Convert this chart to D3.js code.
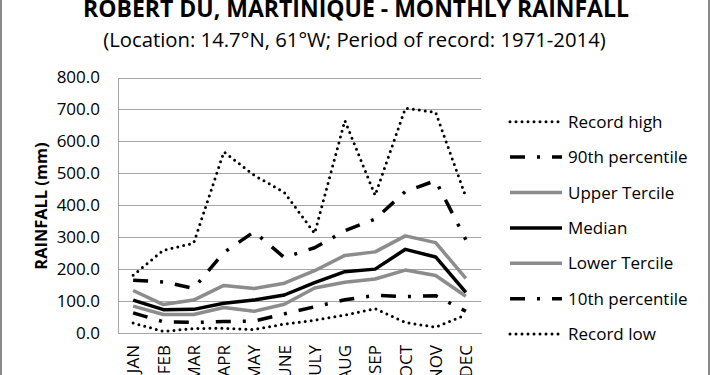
<!DOCTYPE html>
<html>
<head>
<meta charset="utf-8">
<script src="https://cdn.jsdelivr.net/npm/d3@7"></script>
<style>
  html, body { margin: 0; padding: 0; background: #fff; }
  svg { display: block; }
  text { font-family: "Open Sans", sans-serif; fill: #000; }
</style>
</head>
<body>
<svg id="chart" width="710" height="375"></svg>
<script>
// ---------- data ----------
const months = ["JAN","FEB","MAR","APR","MAY","JUNE","JULY","AUG","SEP","OCT","NOV","DEC"];
const recordHigh    = [181, 259, 281, 567, 494, 440, 312, 665, 431, 704, 691, 426];
const pct90         = [165, 160, 140, 252, 317, 236, 267, 320, 357, 443, 477, 292];
const upperTercile  = [133,  89, 103, 149, 139, 156, 195, 243, 254, 304, 283, 171];
const median        = [103,  73,  74,  93, 103, 119, 158, 192, 200, 262, 238, 127];
const lowerTercile  = [ 84,  58,  58,  80,  68,  90, 141, 159, 169, 197, 180, 115];
const pct10         = [ 63,  35,  33,  36,  37,  60,  82, 104, 118, 114, 117,  68];
const recordLow     = [ 31,   5,  14,  15,  11,  28,  40,  56,  76,  33,  18,  57];
const yTicks        = [0, 100, 200, 300, 400, 500, 600, 700, 800];
const seriesNames   = ["Record high","90th percentile","Upper Tercile","Median","Lower Tercile","10th percentile","Record low"];
const titleText     = "ROBERT DU, MARTINIQUE - MONTHLY RAINFALL";
const subtitleText  = "(Location: 14.7°N, 61°W; Period of record: 1971-2014)";
const yAxisTitle    = "RAINFALL (mm)";

// ---------- styles ----------
const dotStyle  = {color:"#000", width:3,   dash:"0,6",        cap:"round"};
const dashDot   = {color:"#000", width:3.5, dash:"15,12,3,12", cap:"butt"};
const greyLine  = {color:"#8c8c8c", width:3.5, dash:null, cap:"butt"};
const blackLine = {color:"#000", width:3.5, dash:null, cap:"butt"};
const seriesValues = [recordHigh, pct90, upperTercile, median, lowerTercile, pct10, recordLow];
const seriesStyles = [dotStyle, dashDot, greyLine, blackLine, greyLine, dashDot, dotStyle];

// ---------- layout ----------
const svg = d3.select("#chart");
const plot = {left:118, right:481, top:77.5, bottom:333};

const x = d3.scaleBand().domain(months).range([plot.left, plot.right]);
const y = d3.scaleLinear().domain([0, 800]).range([plot.bottom, plot.top]);

// outer border (left & right edges)
svg.append("line").attr("x1",1).attr("x2",1).attr("y1",0).attr("y2",375)
  .attr("stroke","#8a8a8a").attr("stroke-width",2);
svg.append("line").attr("x1",709).attr("x2",709).attr("y1",0).attr("y2",375)
  .attr("stroke","#8a8a8a").attr("stroke-width",2);

// titles
svg.append("text").attr("x",356).attr("y",17).attr("text-anchor","middle")
  .style("font-weight","bold").style("font-size","23px").text(titleText);
svg.append("text").attr("x",354.5).attr("y",47).attr("text-anchor","middle")
  .style("font-size","20.3px").text(subtitleText);

// gridlines
const gridG = svg.append("g")
  .attr("transform", `translate(${plot.left},0)`)
  .call(d3.axisLeft(y).tickValues(yTicks.filter(d => d > 0))
        .tickSize(-(plot.right - plot.left)).tickFormat(""));
gridG.select(".domain").remove();
gridG.selectAll(".tick line").attr("stroke","#a6a6a6").attr("stroke-width",1).attr("shape-rendering","crispEdges");

// y axis labels
const yAxisG = svg.append("g")
  .attr("transform", `translate(${plot.left},0)`)
  .call(d3.axisLeft(y).tickValues(yTicks).tickSize(0).tickPadding(18)
        .tickFormat(d3.format(".1f")));
yAxisG.select(".domain").attr("stroke","#a6a6a6").attr("shape-rendering","crispEdges");
yAxisG.selectAll(".tick text").style("font-family","'Open Sans', sans-serif")
  .style("font-size","17px").attr("fill","#000");

// x axis
const xAxisG = svg.append("g")
  .attr("transform", `translate(0,${plot.bottom})`)
  .call(d3.axisBottom(x).tickSize(0).tickPadding(0));
xAxisG.select(".domain").attr("stroke","#a6a6a6").attr("stroke-width",1.5).attr("shape-rendering","crispEdges");
xAxisG.selectAll(".tick text")
  .style("font-family","'Open Sans', sans-serif").style("font-size","17px").attr("fill","#000")
  .attr("text-anchor","end")
  .attr("transform","rotate(-90)")
  .attr("x",-12).attr("y",0).attr("dy","0.36em");

// y axis title
svg.append("text")
  .attr("transform", `translate(47,206) rotate(-90)`)
  .attr("text-anchor","middle")
  .style("font-weight","bold").style("font-size","16.4px")
  .text(yAxisTitle);

// series lines
const line = d3.line()
  .x((d,i) => x(months[i]) + x.bandwidth()/2)
  .y(d => y(d));

const linesG = svg.append("g");
seriesValues.forEach((vals, k) => {
  const s = seriesStyles[k];
  linesG.append("path")
    .datum(vals)
    .attr("d", line)
    .attr("fill","none")
    .attr("stroke", s.color)
    .attr("stroke-width", s.width)
    .attr("stroke-linecap", s.cap)
    .attr("stroke-linejoin","round")
    .attr("stroke-dasharray", s.dash);
});

// legend
const legendTop = 121.7, legendStep = 35.4;
const legend = svg.append("g");
seriesNames.forEach((name, k) => {
  const s = seriesStyles[k];
  const ly = legendTop + k * legendStep;
  legend.append("line")
    .attr("x1", 510).attr("x2", 562).attr("y1", ly).attr("y2", ly)
    .attr("stroke", s.color).attr("stroke-width", s.width)
    .attr("stroke-linecap", s.cap).attr("stroke-dasharray", s.dash);
  legend.append("text")
    .attr("x", 568).attr("y", ly).attr("dy","0.36em")
    .style("font-size","17px")
    .text(name);
});
</script>
</body>
</html>
